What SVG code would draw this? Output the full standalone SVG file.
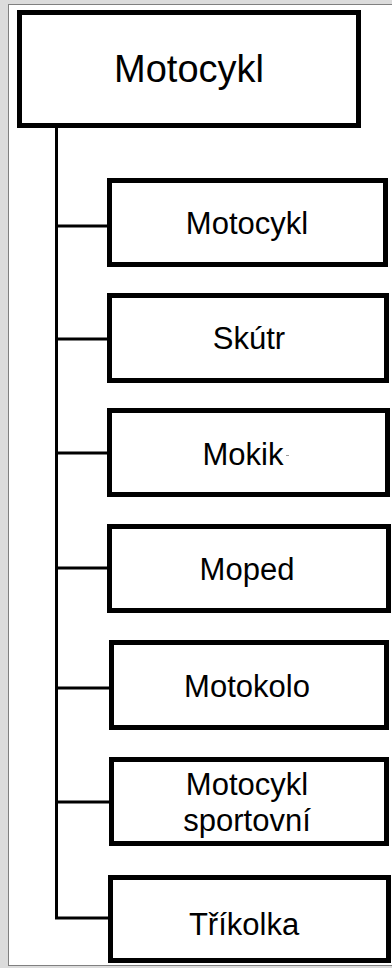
<svg xmlns="http://www.w3.org/2000/svg" width="392" height="968" viewBox="0 0 392 968">
<style>
.box{fill:#fff;stroke:#000;stroke-width:5}
.t{font-family:"Liberation Sans",Arial,sans-serif;fill:#000;text-anchor:middle}
.title{font-size:38px}
.lbl{font-size:31px}
.con{fill:none;stroke:#000;stroke-width:3}
</style>
<rect x="0" y="0" width="392" height="968" fill="#dcdcdc"/>
<rect x="8.5" y="4.5" width="390" height="961" fill="#fff" stroke="#808080" stroke-width="1"/>
<g id="connectors">
<path class="con" d="M56.5 128 V918 H108"/>
<path class="con" d="M56.5 226 H108 M56.5 339 H108 M56.5 453 H108 M56.5 568 H108 M56.5 688 H110 M56.5 802 H110"/>
</g>
<g id="root">
<rect class="box" x="19.5" y="12.5" width="339" height="113"/>
<text class="t title" x="189" y="82">Motocykl</text>
</g>
<g id="n1">
<rect class="box" x="109.5" y="180.5" width="276" height="84"/>
<text class="t lbl" x="247" y="234">Motocykl</text>
</g>
<g id="n2">
<rect class="box" x="109.5" y="295.5" width="277" height="85"/>
<text class="t lbl" x="249" y="349">Skútr</text>
</g>
<g id="n3">
<rect class="box" x="109.5" y="410.5" width="278" height="84"/>
<text class="t lbl" x="243" y="465">Mokik</text>
<rect x="286" y="455" width="3" height="1" fill="#999"/>
</g>
<g id="n4">
<rect class="box" x="109.5" y="526.5" width="279" height="84"/>
<text class="t lbl" x="247" y="580">Moped</text>
</g>
<g id="n5">
<rect class="box" x="111.5" y="642.5" width="275" height="85"/>
<text class="t lbl" x="247" y="697">Motokolo</text>
</g>
<g id="n6">
<rect class="box" x="111.5" y="759.5" width="275" height="84"/>
<text class="t lbl" x="247" y="795">Motocykl</text>
<text class="t lbl" x="247" y="831">sportovní</text>
</g>
<g id="n7">
<rect class="box" x="110.5" y="877.5" width="278" height="83"/>
<text class="t lbl" x="244" y="935">Tříkolka</text>
</g>
</svg>
